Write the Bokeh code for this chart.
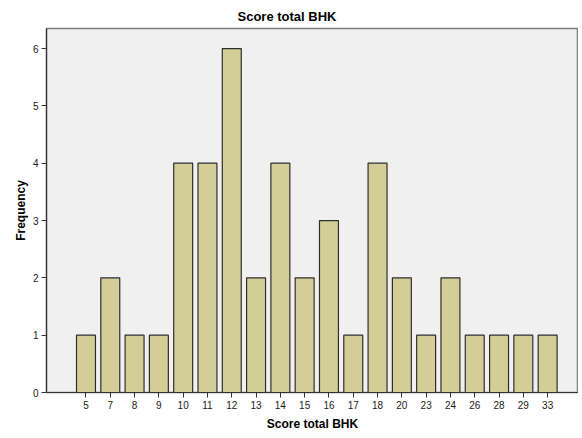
from bokeh.plotting import figure
from bokeh.models import ColumnDataSource, Range1d, FixedTicker, Title
from bokeh.embed import file_html
from bokeh.resources import INLINE

categories = ["5", "7", "8", "9", "10", "11", "12", "13", "14", "15",
              "16", "17", "18", "20", "23", "24", "26", "28", "29", "33"]
frequency = [1, 2, 1, 1, 4, 4, 6, 2, 4, 2, 3, 1, 4, 2, 1, 2, 1, 1, 1, 1]
y_ticks = [0, 1, 2, 3, 4, 5, 6]

xs = list(range(len(categories)))
source = ColumnDataSource(data=dict(x=xs, top=frequency, label=categories))

x_start, x_end = -1.625, 20.27
p = figure(width=578, height=436, output_backend="svg", toolbar_location=None,
           x_range=Range1d(x_start, x_end), y_range=Range1d(0, 6.35),
           min_border_left=46, min_border_top=28, min_border_bottom=44,
           min_border_right=0)

p.title.text = "Score total BHK"
p.title.text_font = "Liberation Sans"
p.title.text_font_size = "13px"
p.title.text_font_style = "bold"
p.title.align = "left"
p.title.offset = 191
p.title.text_color = "#000000"

p.vbar(x="x", top="top", bottom=0, width=0.78, source=source,
       fill_color="#D3CE97", line_color="#2E2E2E", line_width=1.2)

p.background_fill_color = "#F0F0F0"
p.border_fill_color = "#FFFFFF"
p.outline_line_color = "#7F7F7F"
p.outline_line_width = 1.5
p.xgrid.grid_line_color = None
p.ygrid.grid_line_color = None

p.xaxis.ticker = FixedTicker(ticks=xs)
p.xaxis.major_label_overrides = {i: c for i, c in enumerate(categories)}
p.yaxis.ticker = FixedTicker(ticks=y_ticks)

for ax in (p.xaxis[0], p.yaxis[0]):
    ax.minor_tick_line_color = None
    ax.major_tick_in = 0
    ax.major_tick_out = 5
    ax.major_tick_line_color = "#333333"
    ax.axis_line_color = "#333333"
    ax.axis_line_width = 1.2
    ax.major_label_text_font = "Liberation Sans"
    ax.major_label_text_font_size = "10px"
    ax.major_label_text_color = "#222222"
    ax.major_label_standoff = 3
    ax.axis_label = None

xtitle = Title(text="Score total BHK", align="center", text_font="Liberation Sans",
               text_font_size="12px", text_font_style="bold", text_color="#000000",
               standoff=6, offset=-8)
p.add_layout(xtitle, "below")
ytitle = Title(text="Frequency", align="center", text_font="Liberation Sans",
               text_font_size="12px", text_font_style="bold", text_color="#000000",
               standoff=4)
p.add_layout(ytitle, "left")

open("out.html", "w").write(file_html(p, INLINE))
